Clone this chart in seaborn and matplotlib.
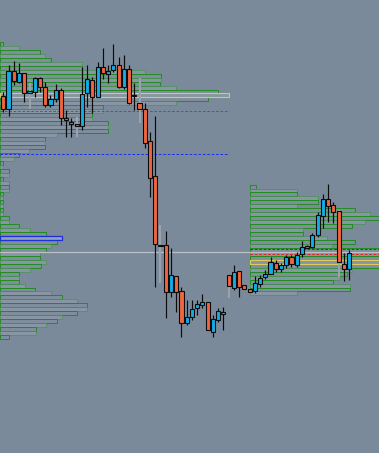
import numpy as np
import matplotlib
matplotlib.use("Agg")
import matplotlib.pyplot as plt
import seaborn as sns

# ---------------- data (price units) ----------------
opens = [357.3, 344.0, 382.3, 371.3, 380.3, 359.7, 361.3, 374.7, 366.3, 348.0,
         353.7, 363.0, 335.0, 331.3, 329.0, 327.3, 359.7, 373.0, 356.3, 385.7,
         378.7, 382.7, 388.0, 365.7, 384.0, 357.5, 350.0, 343.7, 311.7, 276.7,
         208.3, 207.7, 161.3, 176.7, 162.3, 130.3, 135.7, 144.7, 148.0, 150.7,
         120.7, 133.0, 141.0, 178.0, 164.7, 182.0, 167.7, 164.0, 162.3, 169.0,
         175.7, 179.3, 190.3, 184.0, 188.3, 196.3, 188.0, 198.7, 205.7, 206.0,
         218.0, 237.0, 253.7, 248.0, 242.3, 189.0, 183.7]
highs = [361.3, 388.0, 392.0, 390.0, 380.3, 370.0, 376.0, 376.3, 371.3, 358.0,
         369.0, 365.0, 343.0, 335.0, 336.0, 386.0, 388.0, 376.3, 391.3, 405.0,
         388.0, 409.0, 396.0, 398.0, 388.0, 369.7, 375.0, 350.0, 321.0, 337.0,
         228.0, 222.0, 205.0, 177.0, 166.3, 153.0, 153.0, 153.0, 158.7, 150.7,
         138.0, 144.7, 146.3, 178.0, 188.0, 182.0, 168.0, 164.0, 177.0, 178.0,
         183.0, 195.7, 193.0, 190.3, 198.0, 198.0, 201.3, 212.3, 208.0, 219.7,
         241.3, 259.0, 269.0, 251.3, 243.0, 199.7, 203.0]
lows = [341.3, 337.0, 368.0, 370.0, 351.3, 344.0, 356.3, 361.3, 346.3, 346.3,
        351.3, 328.0, 316.3, 316.3, 316.0, 323.0, 346.3, 339.7, 356.3, 374.0,
        370.3, 381.3, 365.0, 363.7, 349.0, 343.0, 330.0, 305.3, 256.3, 166.3,
        170.0, 135.3, 156.3, 141.3, 116.3, 128.0, 133.0, 138.0, 144.7, 123.0,
        116.0, 131.3, 123.0, 155.0, 163.0, 156.3, 164.0, 161.0, 159.7, 166.3,
        173.7, 179.3, 181.3, 181.3, 184.7, 185.7, 186.3, 196.3, 204.7, 204.7,
        216.3, 224.7, 231.3, 229.7, 176.0, 172.3, 173.0]
closes = [344.0, 382.3, 372.3, 379.7, 359.7, 362.0, 374.7, 365.7, 348.0, 353.7,
          362.7, 334.7, 333.0, 328.7, 327.3, 359.0, 373.7, 356.3, 385.7, 379.7,
          382.3, 388.0, 365.7, 384.0, 349.7, 357.0, 343.7, 310.3, 274.7, 208.7,
          206.7, 160.7, 177.7, 161.3, 130.3, 135.7, 143.7, 148.7, 151.0, 123.0,
          134.0, 142.0, 138.7, 167.3, 180.7, 166.3, 164.3, 161.3, 169.7, 174.7,
          179.3, 190.7, 184.0, 188.0, 196.3, 188.7, 198.3, 205.7, 206.3, 217.7,
          238.0, 253.7, 247.3, 241.3, 190.7, 183.7, 199.7]
faded_wick_bars = [5, 14, 26, 30, 43, 64]

# volume profiles (volume per price row)
left_profile = [3, 19, 40, 45, 51, 82, 82, 145, 161, 161,
                160, 176, 218, 229, 208, 176, 103, 103, 92, 92,
                108, 108, 108, 57, 45, 45, 45, 29, 19, 14,
                3, 3, 9, 9, 3, 9, 9, 9, 3, 3,
                3, 3, 3, 3, 9, 9, 19, 30, 46, 62,
                57, 51, 46, 40, 40, 46, 41, 30, 19, 19,
                19, 25, 35, 51, 62, 77, 87, 87, 77, 62,
                57, 46, 36, 36, 9]
right_profile = [6, 47, 47, 68, 68, 47, 105, 120, 135, 115,
                 102, 53, 53, 77, 105, 82, 135, 135, 135, 135,
                 135, 102, 97, 90, 83, 100, 100, 47]
profile_top_price = 411.0
profile_row_size = 3.96
right_first_row = 36
right_session_start = 47
left_session_end = 43
left_poc_row = 13
left_marked_row = 49
right_poc_row = 19

left_red_level = 342.0
left_blue_level = 298.7
right_blue_level = 203.7
right_red_level = 199.5
last_price = 200.7

# ---------------- style ----------------
bg = "#7b8a9b"
up_col = "#12ade6"
dn_col = "#f0643f"
vol_to_x = 1 / 5.24
px = 0.72  # one pixel in points

sns.set_theme(style="white", rc={"axes.facecolor": bg, "figure.facecolor": bg})

fig = plt.figure(figsize=(3.79, 4.53), dpi=100)
ax = fig.add_axes([0, 0, 1, 1])
ax.set_facecolor(bg)
xmin, xmax = -0.63, 71.7
ax.set_xlim(xmin, xmax)
ax.set_ylim(0, 453)
ax.set_axis_off()


def draw_profile(vols, first_row, left):
    v = np.array(vols, float)
    rows = np.arange(len(v)) + first_row
    cent = profile_top_price - profile_row_size * (rows + 0.5)
    edges = [(0.12, 0.55, 0.12, 0.95) if r % 2 == 0 else (0.30, 0.56, 0.36, 0.75) for r in rows]
    faces = [(0.62, 0.70, 0.70, 0.10) if r % 2 == 0 else (0.70, 0.76, 0.74, 0.22) for r in rows]
    ax.barh(cent, v * vol_to_x, left=left, height=profile_row_size,
            color=faces, edgecolor=edges, linewidth=px, zorder=1)
    return cent, v


lcent, lv = draw_profile(left_profile, 0, xmin)
rcent, rv = draw_profile(right_profile, right_first_row, right_session_start)

# highlighted rows
ax.barh([lcent[left_poc_row]], [lv[left_poc_row] * vol_to_x], left=xmin,
        height=profile_row_size, color=(1, 1, 1, 0.0), edgecolor="#dccb5c",
        linewidth=1.1 * px, zorder=2)
ax.barh([lcent[left_marked_row]], [lv[left_marked_row] * vol_to_x], left=xmin,
        height=profile_row_size, color=(0.8, 0.85, 1, 0.18), edgecolor="#1f2fd8",
        linewidth=1.3 * px, zorder=2)
ax.barh([rcent[right_poc_row]], [rv[right_poc_row] * vol_to_x], left=right_session_start,
        height=profile_row_size, color=(1, 1, 1, 0.0), edgecolor="#dccb5c",
        linewidth=1.1 * px, zorder=2)

# level lines
dash = (0, (2.6, 1.8))
ax.hlines([left_red_level], xmin, left_session_end, colors="#e8231e", linestyles=dash, lw=px, zorder=2)
ax.hlines([left_blue_level], xmin, left_session_end, colors="#1c2ef0", linestyles=dash, lw=px, zorder=2)
ax.hlines([right_blue_level], right_session_start, xmax, colors="#1c2ef0", linestyles=dash, lw=px, zorder=2)
ax.hlines([right_red_level], right_session_start, xmax, colors="#e8231e", linestyles=dash, lw=px, zorder=2)
ax.axhline(last_price, color="#b9c0c7", lw=1.2 * px, zorder=2)

# candles
o = np.array(opens); h = np.array(highs); l = np.array(lows); c = np.array(closes)
idx = np.arange(len(o))
wick_col = ["#9aa3ac" if i in faded_wick_bars else "#0b0b0b" for i in idx]
wick_lw = [2.0 * px if i in faded_wick_bars else 1.2 * px for i in idx]
ax.vlines(idx, l, h, colors=wick_col, lw=wick_lw, zorder=3)
lo = np.minimum(o, c)
hgt = np.abs(c - o)
small = hgt < 1.2
lo = np.where(small, (o + c) / 2 - 0.6, lo)
hgt = np.where(small, 1.2, hgt)
cols = [up_col if cc >= oo else dn_col for oo, cc in zip(o, c)]
ax.bar(idx, hgt, bottom=lo, width=0.78, color=cols, edgecolor="#0b0b0b",
       linewidth=1.1 * px, zorder=4)

fig.savefig("out.png", dpi=100, facecolor=bg)
